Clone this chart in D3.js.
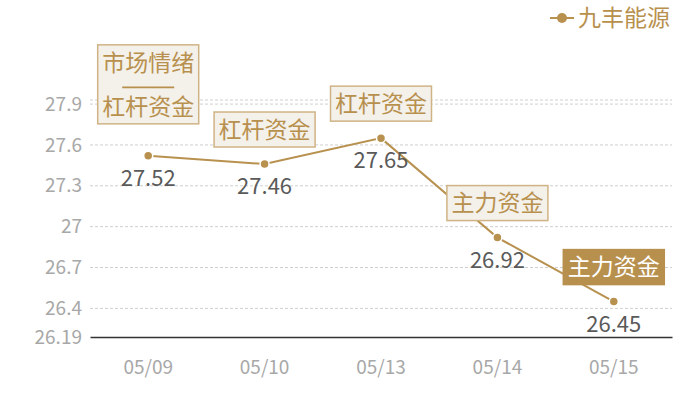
<!DOCTYPE html>
<html><head><meta charset="utf-8">
<script src="https://cdn.jsdelivr.net/npm/d3@7/dist/d3.min.js"></script>
<style>
html,body{margin:0;padding:0;background:#fff;}
svg{display:block;font-family:"Noto Sans CJK SC","Noto Sans",sans-serif;}
</style></head>
<body><svg id="c" width="700" height="400"></svg>
<script>
const categories = ["05/09","05/10","05/13","05/14","05/15"];
const values = [27.52, 27.46, 27.65, 26.92, 26.45];
const seriesName = "九丰能源";
const yTicks = [26.4, 26.7, 27, 27.3, 27.6, 27.9];
const yMin = 26.19, yMax = 27.93;
const annotations = [["市场情绪","杠杆资金"],["杠杆资金"],["杠杆资金"],["主力资金"],["主力资金"]];
const highlighted = [false,false,false,false,true];

const gold = "#b8914f";
const svg = d3.select("#c");
const x = d3.scaleBand().domain(categories).range([90, 672]);
const y = d3.scaleLinear().domain([yMin, yMax]).range([337, 100]);

// grid
const gridVals = yTicks.concat([yMax]);
svg.append("g").selectAll("line").data(gridVals).join("line")
  .attr("x1", 90).attr("x2", 672)
  .attr("y1", d => y(d)).attr("y2", d => y(d))
  .attr("stroke", "#cfcfcf").attr("stroke-dasharray", "3,2").attr("stroke-width", 1);

// y axis labels
const yAxis = d3.axisLeft(y).tickValues([yMin].concat(yTicks)).tickSize(0).tickPadding(8)
  .tickFormat(d => d3.format("")(+d.toFixed(2)));
const ga = svg.append("g").attr("transform", "translate(90,0)").call(yAxis);
ga.select(".domain").remove();
ga.selectAll("text").attr("fill", "#a8a8a8").style("font-size", "19px")
  .style("font-family", '"Noto Sans CJK SC",sans-serif');

// x axis
const xAxis = d3.axisBottom(x).tickSize(0).tickPadding(24);
const gx = svg.append("g").attr("transform", "translate(0,337)").call(xAxis);
gx.select(".domain").attr("stroke", "#333").attr("stroke-width", 1.5);
gx.selectAll("text").attr("fill", "#a8a8a8").style("font-size", "19px")
  .style("font-family", '"Noto Sans CJK SC",sans-serif');

const cx = i => x(categories[i]) + x.bandwidth() / 2;

// line
const line = d3.line().x((d, i) => cx(i)).y(d => y(d));
svg.append("path").datum(values).attr("d", line)
  .attr("fill", "none").attr("stroke", gold).attr("stroke-width", 2);

// points
svg.append("g").selectAll("circle").data(values).join("circle")
  .attr("cx", (d, i) => cx(i)).attr("cy", d => y(d)).attr("r", 4.5)
  .attr("fill", gold).attr("stroke", "#fff").attr("stroke-width", 1.5);

// value labels
svg.append("g").selectAll("text").data(values).join("text")
  .attr("x", (d, i) => cx(i)).attr("y", d => y(d) + 30)
  .attr("text-anchor", "middle").attr("fill", "#5a5a5a").style("font-size", "22px")
  .text(d => d3.format(".2f")(d));

// annotations
annotations.forEach((lines, i) => {
  const px = cx(i), py = y(values[i]);
  const w = 101;
  const multi = lines.length > 1;
  const bottom = py - (multi ? 32 : 17);
  const h = multi ? 79 : 35;
  const top = bottom - h;
  const g = svg.append("g");
  const hl = highlighted[i];
  g.append("rect").attr("x", px - w / 2).attr("y", top).attr("width", w).attr("height", h)
    .attr("fill", hl ? "#b8904e" : "#f4f0ea").attr("stroke", hl ? "#b8904e" : "#d0b385").attr("stroke-width", 1.5);
  const tc = hl ? "#fff" : "#b8904e";
  if (multi) {
    const midY = (top + bottom) / 2;
    g.append("text").attr("x", px).attr("y", top + 18).attr("dy", "0.36em")
      .attr("text-anchor", "middle").attr("fill", tc).style("font-size", "23px").text(lines[0]);
    g.append("line").attr("x1", px - 26).attr("x2", px + 26)
      .attr("y1", midY + 3).attr("y2", midY + 3).attr("stroke", tc).attr("stroke-width", 1.8);
    g.append("text").attr("x", px).attr("y", bottom - 17).attr("dy", "0.36em")
      .attr("text-anchor", "middle").attr("fill", tc).style("font-size", "23px").text(lines[1]);
  } else {
    g.append("text").attr("x", px).attr("y", (top + bottom) / 2).attr("dy", "0.36em")
      .attr("text-anchor", "middle").attr("fill", tc).style("font-size", "23px").text(lines[0]);
  }
});

// legend
const lg = svg.append("g");
lg.append("line").attr("x1", 550).attr("x2", 574).attr("y1", 18).attr("y2", 18)
  .attr("stroke", gold).attr("stroke-width", 2);
lg.append("circle").attr("cx", 562).attr("cy", 18).attr("r", 5).attr("fill", gold);
lg.append("text").attr("x", 578).attr("y", 18).attr("dy", "0.36em").attr("fill", "#b8904e")
  .style("font-size", "23px").text(seriesName);
</script></body></html>
